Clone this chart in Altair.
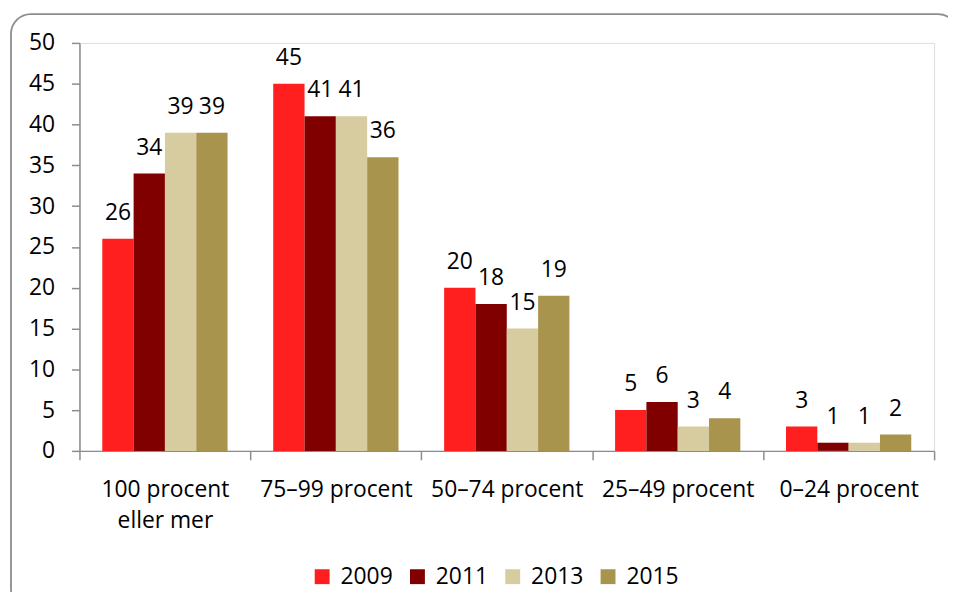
import altair as alt
import pandas as pd

categories = ["100 procent|eller mer", "75–99 procent", "50–74 procent", "25–49 procent", "0–24 procent"]
years = ["2009", "2011", "2013", "2015"]
v2009 = [26, 45, 20, 5, 3]
v2011 = [34, 41, 18, 6, 1]
v2013 = [39, 41, 15, 3, 1]
v2015 = [39, 36, 19, 4, 2]
colors = ["#FF1F1F", "#800000", "#D7CBA0", "#A9944E"]

rows = []
for yr, vals in zip(years, [v2009, v2011, v2013, v2015]):
    for c, v in zip(categories, vals):
        rows.append({"kategori": c, "år": yr, "andel": v})
df = pd.DataFrame(rows)

FONT = "Open Sans"
FS = 23

x_enc = alt.X(
    "kategori:N",
    sort=categories,
    scale=alt.Scale(paddingInner=0, paddingOuter=0),
    axis=alt.Axis(
        title=None,
        labelAngle=0,
        tickBand="extent",
        tickSize=9,
        tickWidth=1.5,
        tickColor="#8C8C8C",
        domainColor="#8C8C8C",
        domainWidth=1.5,
        labelFontSize=FS,
        labelFont=FONT,
        labelColor="#000000",
        labelPadding=19,
        labelLineHeight=31,
        labelLimit=300,
        labelOverlap=False,
        labelExpr="split(datum.label, '|')",
    ),
)
xoff = alt.XOffset("år:N", sort=years, scale=alt.Scale(paddingOuter=0.729, paddingInner=0))

bars = alt.Chart(df).mark_bar().encode(
    x=x_enc,
    xOffset=xoff,
    y=alt.Y(
        "andel:Q",
        scale=alt.Scale(domain=[0, 50], nice=False),
        axis=alt.Axis(
            title=None,
            values=list(range(0, 51, 5)),
            grid=False,
            tickSize=8,
            tickWidth=1.5,
            tickColor="#8C8C8C",
            domainColor="#8C8C8C",
            domainWidth=1.5,
            labelFontSize=FS,
            labelFont=FONT,
            labelColor="#000000",
            labelPadding=17,
        ),
    ),
    color=alt.Color(
        "år:N",
        sort=years,
        scale=alt.Scale(domain=years, range=colors),
        legend=alt.Legend(
            title=None,
            orient="none",
            direction="horizontal",
            legendX=233,
            legendY=526,
            symbolType="square",
            symbolSize=225,
            symbolStrokeWidth=0,
            symbolOpacity=1,
            labelFontSize=FS,
            labelFont=FONT,
            labelColor="#000000",
            labelOffset=7,
            columnPadding=13,
        ),
    ),
)

labels = alt.Chart(df).mark_text(
    dy=-26, baseline="middle", align="center", fontSize=FS, font=FONT, color="#000000"
).encode(
    x=alt.X("kategori:N", sort=categories),
    xOffset=alt.XOffset("år:N", sort=years),
    y=alt.Y("andel:Q"),
    text=alt.Text("andel:Q"),
)

frame = alt.Chart(pd.DataFrame({"f": [0]})).mark_rect(
    fill=None, stroke="#8C8C8C", strokeWidth=1.8, cornerRadius=20
).encode(
    x=alt.value(-69), x2=alt.value(885), y=alt.value(-29), y2=alt.value(570)
)

chart = alt.layer(frame, bars, labels).properties(
    width=861,
    height=411,
    autosize=alt.AutoSizeParams(type="none"),
    padding={"left": 72, "top": 33, "right": 14, "bottom": 140},
).configure_view(stroke=None).configure(font=FONT, background="white")

chart.save("out.html", embed_options={"renderer": "svg", "actions": False})
